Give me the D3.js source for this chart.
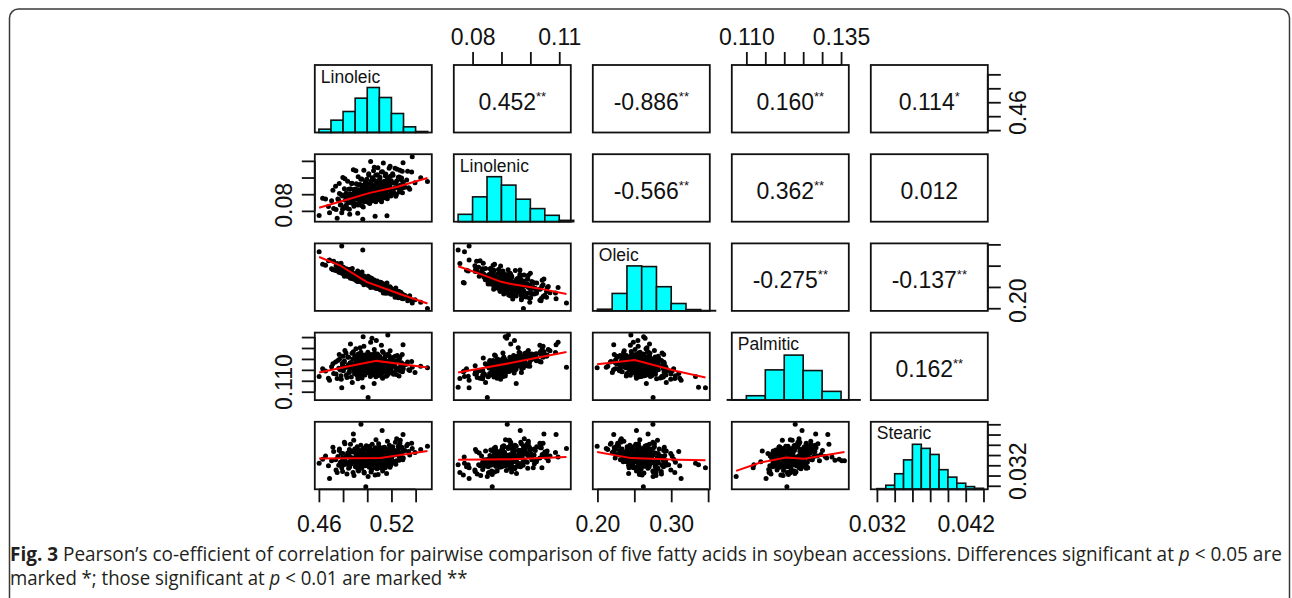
<!DOCTYPE html>
<html>
<head>
  <title>Fatty acid correlation matrix</title>
  <meta charset="utf-8">
  <script src="https://cdnjs.cloudflare.com/ajax/libs/d3/7.8.5/d3.min.js"></script>
  <style>
    body { margin: 0; background: #fff; }
    svg { display: block; }
  </style>
</head>
<body>
  <svg id="chart" width="1292" height="598"></svg>

  <script>
    "use strict";

    // one value per accession, estimated from the scatter clouds
    var linoleic = [0.4602,0.4655,0.4688,0.4705,0.4722,0.4738,0.4751,0.4764,0.4770,0.4783,
      0.4789,0.4794,0.4798,0.4803,0.4811,0.4818,0.4824,0.4832,0.4838,0.4843,
      0.4849,0.4855,0.4861,0.4866,0.4870,0.4876,0.4881,0.4885,0.4890,0.4893,
      0.4897,0.4903,0.4907,0.4910,0.4914,0.4917,0.4921,0.4925,0.4928,0.4931,
      0.4935,0.4938,0.4941,0.4944,0.4948,0.4951,0.4954,0.4957,0.4960,0.4963,
      0.4966,0.4969,0.4972,0.4975,0.4978,0.4981,0.4984,0.4988,0.4992,0.4996,
      0.5002,0.5005,0.5007,0.5010,0.5013,0.5015,0.5018,0.5020,0.5023,0.5026,
      0.5028,0.5031,0.5033,0.5036,0.5039,0.5041,0.5044,0.5046,0.5049,0.5052,
      0.5054,0.5057,0.5059,0.5062,0.5065,0.5067,0.5070,0.5072,0.5075,0.5078,
      0.5080,0.5083,0.5085,0.5088,0.5090,0.5093,0.5095,0.5098,0.5102,0.5105,
      0.5108,0.5111,0.5114,0.5117,0.5120,0.5123,0.5127,0.5130,0.5133,0.5136,
      0.5140,0.5143,0.5146,0.5150,0.5153,0.5157,0.5160,0.5163,0.5167,0.5170,
      0.5174,0.5177,0.5181,0.5184,0.5188,0.5191,0.5195,0.5198,0.5204,0.5210,
      0.5217,0.5223,0.5230,0.5236,0.5243,0.5250,0.5257,0.5263,0.5270,0.5277,
      0.5284,0.5291,0.5296,0.5298,0.5312,0.5334,0.5351,0.5372,0.5395,0.5498,
      0.4631,0.4679,0.4716,0.4742,0.4757,0.4768,0.4777,0.4785,0.4796,0.4807,
      0.4815,0.4827,0.4836,0.4846,0.4852,0.4859,0.4868,0.4874,0.4883,0.4888,
      0.4895,0.4902,0.4906,0.4912,0.4916,0.4923,0.4927,0.4933,0.4937,0.4943,
      0.4947,0.4952,0.4958,0.4962,0.4967,0.4973,0.4979,0.4983,0.4989,0.4994,
      0.5003,0.5008,0.5012,0.5017,0.5021,0.5025,0.5029,0.5034,0.5038,0.5043,
      0.5047,0.5051,0.5055,0.5058,0.5063,0.5066,0.5071,0.5074,0.5077,0.5081,
      0.5084,0.5087,0.5091,0.5094,0.5097,0.5103,0.5109,0.5115,0.5121,0.5126,
      0.5132,0.5138,0.5144,0.5149,0.5155,0.5161,0.5166,0.5172,0.5178,0.5183,
      0.5189,0.5194,0.5199,0.5201,0.5213,0.5226,0.5233,0.5241,0.5248,0.5256,
      0.5265,0.5273,0.5281,0.5289,0.5294,0.5326,0.5343,0.5367,0.5442,0.5118];

    var linolenic = [0.0772,0.0871,0.0788,0.0861,0.0814,0.0948,0.0756,0.0863,0.0904,0.0837,
      0.0788,0.0889,0.1000,0.0821,0.0932,0.0864,0.0905,0.0816,0.0978,0.0849,
      0.0890,0.0779,0.0932,0.0863,0.0964,0.0845,0.0886,0.1047,0.0828,0.0909,
      0.0879,0.0931,0.0841,0.0962,0.0873,0.0903,0.0785,0.1005,0.0866,0.0926,
      0.0837,0.0898,0.0958,0.0859,0.0920,0.0890,0.0991,0.0831,0.0942,0.0750,
      0.0913,0.0874,0.1044,0.0855,0.0936,0.0886,0.0967,0.0868,0.0908,0.0989,
      0.0880,0.0961,0.0851,0.0922,0.1013,0.0893,0.0944,0.0844,0.0935,0.0905,
      0.1096,0.0876,0.0957,0.0867,0.0918,0.0988,0.0889,0.0939,0.0860,0.1040,
      0.0901,0.0951,0.0882,0.0982,0.0768,0.0933,0.1014,0.0914,0.0945,0.0876,
      0.0966,0.0897,0.0927,0.1058,0.0868,0.0949,0.0909,0.0980,0.0890,0.1001,
      0.0922,0.0942,0.0863,0.1033,0.0904,0.0965,0.0885,0.0936,0.1087,0.0917,
      0.0978,0.0879,0.0959,0.0930,0.1021,0.0901,0.0952,0.0771,0.0993,0.0924,
      0.0975,0.0895,0.1056,0.0937,0.0948,0.1008,0.0889,0.0970,0.0921,0.1022,
      0.0913,0.0965,0.1056,0.0887,0.0979,0.0940,0.1001,0.0913,0.1044,0.0955,
      0.0997,0.0908,0.1089,0.0970,0.0942,0.1037,0.0930,0.1125,0.0969,0.0976,
      0.0876,0.0826,0.0923,0.0808,0.0871,0.0964,0.0835,0.0897,0.0809,0.0891,
      0.0993,0.0835,0.0877,0.0929,0.0810,0.0902,0.0874,0.0965,0.0857,0.0928,
      0.0839,0.0901,0.1041,0.0872,0.0923,0.0835,0.0955,0.0887,0.0917,0.0859,
      0.0989,0.0880,0.0902,0.0952,0.0823,0.0935,0.0876,0.0977,0.0898,0.0919,
      0.0951,0.0872,0.1022,0.0893,0.0934,0.0855,0.0976,0.0917,0.0888,0.0999,
      0.0869,0.0950,0.0911,0.1062,0.0883,0.0933,0.0854,0.0975,0.0905,0.0946,
      0.1017,0.0897,0.0928,0.0969,0.0879,0.0991,0.0912,0.0943,0.0874,0.1035,
      0.0906,0.0968,0.0929,0.1010,0.0901,0.0962,0.0873,0.0994,0.0936,0.0947,
      0.1068,0.0919,0.0980,0.0900,0.1013,0.0935,0.0967,0.0898,0.1050,0.0951,
      0.1003,0.0925,0.0986,0.1038,0.0939,0.0985,0.0939,0.1033,0.0998,0.0854];

    var oleic = [0.3329,0.3012,0.3134,0.2925,0.3102,0.2886,0.3048,0.2931,0.2838,0.3057,
      0.3464,0.2817,0.2823,0.2964,0.2752,0.2900,0.2876,0.2867,0.2782,0.2745,
      0.2912,0.2894,0.2706,0.2809,0.2800,0.2933,0.2704,0.2686,0.2794,0.2809,
      0.2705,0.2812,0.2786,0.2735,0.2674,0.2772,0.2873,0.2627,0.2751,0.2662,
      0.2818,0.2701,0.2672,0.2705,0.2752,0.2617,0.2684,0.2853,0.2603,0.3370,
      0.2626,0.2754,0.2552,0.2630,0.2732,0.2664,0.2667,0.2622,0.2658,0.2567,
      0.2708,0.2578,0.2754,0.2534,0.2600,0.2710,0.2570,0.2671,0.2594,0.2718,
      0.2486,0.2569,0.2619,0.2604,0.2646,0.2519,0.2652,0.2508,0.2665,0.2524,
      0.2554,0.2663,0.2578,0.2557,0.2605,0.2641,0.2471,0.2574,0.2548,0.2501,
      0.2547,0.2637,0.2498,0.2473,0.2569,0.2580,0.2492,0.2535,0.2591,0.2446,
      0.2608,0.2428,0.2568,0.2446,0.2477,0.2529,0.2529,0.2525,0.2355,0.2567,
      0.2400,0.2534,0.2443,0.2560,0.2350,0.2525,0.2423,0.2593,0.2358,0.2453,
      0.2422,0.2401,0.2393,0.2416,0.2505,0.2342,0.2470,0.2441,0.2366,0.2403,
      0.2399,0.2397,0.2260,0.2474,0.2324,0.2398,0.2245,0.2391,0.2274,0.2377,
      0.2242,0.2336,0.2221,0.2241,0.2301,0.2176,0.2296,0.2120,0.2202,0.1996,
      0.3033,0.3115,0.2906,0.2995,0.2867,0.2898,0.2913,0.2993,0.2865,0.2902,
      0.2772,0.2928,0.2757,0.2820,0.2903,0.2779,0.2893,0.2711,0.2795,0.2814,
      0.2731,0.2783,0.2658,0.2826,0.2636,0.2802,0.2698,0.2675,0.2786,0.2698,
      0.2679,0.2638,0.2740,0.2621,0.2750,0.2757,0.2620,0.2635,0.2628,0.2712,
      0.2576,0.2700,0.2591,0.2550,0.2645,0.2620,0.2635,0.2549,0.2699,0.2538,
      0.2639,0.2494,0.2629,0.2510,0.2544,0.2636,0.2570,0.2556,0.2498,0.2593,
      0.2464,0.2571,0.2461,0.2557,0.2539,0.2526,0.2469,0.2567,0.2505,0.2459,
      0.2437,0.2499,0.2462,0.2486,0.2434,0.2467,0.2446,0.2489,0.2381,0.2440,
      0.2363,0.2462,0.2326,0.2454,0.2334,0.2439,0.2315,0.2401,0.2307,0.2288,
      0.2352,0.2312,0.2333,0.2228,0.2312,0.2264,0.2218,0.2185,0.2140,0.2598];

    var palmitic = [0.1170,0.1195,0.1152,0.1214,0.1183,0.1236,0.1160,0.1207,0.1248,0.1173,
      0.1118,0.1229,0.1262,0.1196,0.1241,0.1211,0.1277,0.1165,0.1259,0.1223,
      0.1188,0.1205,0.1318,0.1232,0.1219,0.1142,0.1250,0.1283,0.1197,0.1226,
      0.1264,0.1213,0.1180,0.1248,0.1201,0.1236,0.1171,0.1273,0.1227,0.1192,
      0.1254,0.1210,0.1301,0.1183,0.1229,0.1245,0.1218,0.1163,0.1266,0.1120,
      0.1352,0.1198,0.1308,0.1215,0.1251,0.1176,0.1232,0.1207,0.1259,0.1222,
      0.1240,0.1281,0.1073,0.1225,0.1263,0.1209,0.1186,0.1228,0.1247,0.1169,
      0.1326,0.1214,0.1256,0.1199,0.1345,0.1270,0.1179,0.1221,0.1243,0.1262,
      0.1205,0.1138,0.1230,0.1276,0.1191,0.1238,0.1252,0.1216,0.1334,0.1202,
      0.1245,0.1173,0.1227,0.1268,0.1211,0.1249,0.1187,0.1234,0.1220,0.1261,
      0.1196,0.1239,0.1178,0.1312,0.1213,0.1247,0.1162,0.1225,0.1279,0.1204,
      0.1233,0.1189,0.1258,0.1216,0.1242,0.1171,0.1228,0.1195,0.1270,0.1359,
      0.1237,0.1183,0.1266,0.1222,0.1201,0.1250,0.1192,0.1231,0.1214,0.1253,
      0.1180,0.1227,0.1262,0.1198,0.1239,0.1208,0.1245,0.1172,0.1258,0.1219,
      0.1232,0.1191,0.1315,0.1205,0.1224,0.1236,0.1197,0.1212,0.1188,0.1210,
      0.1205,0.1162,0.1228,0.1181,0.1243,0.1270,0.1199,0.1157,0.1219,0.1235,
      0.1289,0.1176,0.1214,0.1258,0.1190,0.1232,0.1167,0.1276,0.1208,0.1221,
      0.1183,0.1246,0.1297,0.1201,0.1225,0.1159,0.1262,0.1211,0.1193,0.1237,
      0.1281,0.1206,0.1174,0.1253,0.1197,0.1231,0.1268,0.1219,0.1185,0.1240,
      0.1247,0.1203,0.1274,0.1188,0.1229,0.1215,0.1258,0.1198,0.1177,0.1266,
      0.1236,0.1210,0.1250,0.1293,0.1192,0.1227,0.1168,0.1261,0.1213,0.1244,
      0.1272,0.1199,0.1222,0.1239,0.1181,0.1255,0.1218,0.1207,0.1186,0.1284,
      0.1226,0.1245,0.1203,0.1261,0.1194,0.1234,0.1175,0.1268,0.1211,0.1229,
      0.1287,0.1200,0.1241,0.1189,0.1257,0.1216,0.1236,0.1179,0.1266,0.1204,
      0.1248,0.1195,0.1223,0.1270,0.1210,0.1226,0.1201,0.1238,0.1216,0.1170];

    var stearic = [0.0364,0.0378,0.0334,0.0369,0.0387,0.0371,0.0346,0.0360,0.0392,0.0366,
      0.0355,0.0374,0.0383,0.0361,0.0405,0.0369,0.0376,0.0343,0.0384,0.0365,
      0.0379,0.0357,0.0401,0.0370,0.0363,0.0388,0.0373,0.0421,0.0340,0.0367,
      0.0392,0.0375,0.0358,0.0385,0.0366,0.0396,0.0361,0.0371,0.0349,0.0380,
      0.0368,0.0357,0.0389,0.0363,0.0440,0.0372,0.0354,0.0378,0.0384,0.0361,
      0.0369,0.0393,0.0377,0.0345,0.0365,0.0382,0.0359,0.0318,0.0398,0.0366,
      0.0375,0.0387,0.0338,0.0369,0.0380,0.0362,0.0395,0.0371,0.0358,0.0383,
      0.0376,0.0347,0.0364,0.0389,0.0372,0.0401,0.0360,0.0368,0.0379,0.0355,
      0.0386,0.0367,0.0373,0.0392,0.0341,0.0378,0.0363,0.0410,0.0370,0.0384,
      0.0357,0.0375,0.0366,0.0388,0.0342,0.0379,0.0396,0.0368,0.0361,0.0383,
      0.0372,0.0355,0.0390,0.0374,0.0366,0.0428,0.0349,0.0377,0.0385,0.0364,
      0.0371,0.0395,0.0358,0.0380,0.0367,0.0388,0.0344,0.0376,0.0407,0.0369,
      0.0360,0.0382,0.0374,0.0393,0.0356,0.0371,0.0385,0.0363,0.0378,0.0396,
      0.0367,0.0389,0.0381,0.0362,0.0412,0.0384,0.0391,0.0370,0.0403,0.0378,
      0.0395,0.0386,0.0420,0.0374,0.0389,0.0401,0.0380,0.0393,0.0385,0.0397,
      0.0372,0.0359,0.0395,0.0351,0.0377,0.0389,0.0366,0.0383,0.0348,0.0371,
      0.0402,0.0362,0.0380,0.0354,0.0391,0.0368,0.0375,0.0386,0.0346,0.0409,
      0.0370,0.0357,0.0381,0.0365,0.0393,0.0352,0.0376,0.0387,0.0363,0.0371,
      0.0399,0.0358,0.0378,0.0366,0.0384,0.0347,0.0373,0.0392,0.0361,0.0379,
      0.0368,0.0388,0.0371,0.0356,0.0397,0.0364,0.0381,0.0350,0.0374,0.0390,
      0.0362,0.0377,0.0385,0.0369,0.0358,0.0394,0.0372,0.0366,0.0380,0.0353,
      0.0389,0.0375,0.0361,0.0402,0.0368,0.0379,0.0359,0.0386,0.0371,0.0394,
      0.0363,0.0382,0.0370,0.0355,0.0391,0.0376,0.0365,0.0384,0.0372,0.0399,
      0.0378,0.0360,0.0388,0.0373,0.0392,0.0380,0.0405,0.0369,0.0386,0.0397,
      0.0376,0.0409,0.0383,0.0394,0.0371,0.0398,0.0387,0.0403,0.0391,0.0357];

    // histogram bars as drawn on the diagonal: first break, bin width, bar heights
    var linoleicBins = [0.46, 0.01, [10, 37, 63, 103, 135, 105, 57, 17, 3]];
    var linolenicBins = [0.075, 0.005, [22, 74, 134, 109, 67, 39, 19, 4]];
    var oleicBins = [0.20, 0.02, [5, 52, 134, 132, 72, 22, 4, 1]];
    var palmiticBins = [0.105, 0.005, [1, 13, 90, 134, 88, 26, 1]];
    var stearicBins = [0.032, 0.001, [2, 12, 46, 87, 133, 121, 103, 58, 36, 18, 8, 3]];

    // smoothed red lines of the lower panels, [x, y]
    var smoothLinolenicLinoleic = [[0.4602,0.0819],[0.4800,0.0861],[0.5022,0.0908],[0.5243,0.0943],[0.5498,0.0997]];
    var smoothOleicLinoleic = [[0.4602,0.3203],[0.4773,0.3009],[0.4994,0.2620],[0.5270,0.2333],[0.5498,0.2112]];
    var smoothOleicLinolenic = [[0.0750,0.2987],[0.0828,0.2800],[0.0899,0.2620],[0.0934,0.2567],[0.1029,0.2466],[0.1125,0.2334]];
    var smoothPalmiticLinoleic = [[0.4602,0.1188],[0.4856,0.1218],[0.5077,0.1241],[0.5498,0.1211]];
    var smoothPalmiticLinolenic = [[0.0750,0.1188],[0.0935,0.1232],[0.1125,0.1282]];
    var smoothPalmiticOleic = [[0.1996,0.1226],[0.2507,0.1245],[0.3067,0.1195],[0.3464,0.1165]];
    var smoothStearicLinoleic = [[0.4602,0.0373],[0.5109,0.0374],[0.5498,0.0388]];
    var smoothStearicLinolenic = [[0.0750,0.0371],[0.0935,0.0372],[0.1125,0.0376]];
    var smoothStearicOleic = [[0.1996,0.0386],[0.2458,0.0374],[0.3102,0.0371],[0.3464,0.0370]];
    var smoothStearicPalmitic = [[0.1073,0.0349],[0.1135,0.0365],[0.1205,0.0375],[0.1253,0.0373],[0.1359,0.0386]];

    // upper panels: [row, col], coefficient, significance stars
    var corrCells = [[0,1],[0,2],[0,3],[0,4],[1,2],[1,3],[1,4],[2,3],[2,4],[3,4]];
    var corrValues = ["0.452","-0.886","0.160","0.114","-0.566","0.362","0.012","-0.275","-0.137","0.162"];
    var corrStars = ["**","**","**","*","**","**","","**","**","**"];

    var names = ["Linoleic", "Linolenic", "Oleic", "Palmitic", "Stearic"];

    var linoleicTicks = [0.46, 0.48, 0.50, 0.52, 0.54];
    var linolenicTicks = [0.08, 0.09, 0.10, 0.11];
    var oleicTicks = [0.20, 0.25, 0.30, 0.35];
    var palmiticTicks = [0.110, 0.115, 0.120, 0.125, 0.130, 0.135];
    var stearicTicks = [0.032, 0.034, 0.036, 0.038, 0.040, 0.042, 0.044];

    // labels printed on the horizontal and the vertical axis of each variable
    var linoleicXLabels = ["0.46", "", "", "0.52", ""];
    var linolenicXLabels = ["0.08", "", "", "0.11"];
    var oleicXLabels = ["0.20", "", "0.30", ""];
    var palmiticXLabels = ["0.110", "", "", "", "", "0.135"];
    var stearicXLabels = ["0.032", "", "", "", "", "0.042", ""];
    var linoleicYLabels = ["0.46", "", "", "", ""];
    var linolenicYLabels = ["0.08", "", "", ""];
    var oleicYLabels = ["0.20", "", "", ""];
    var palmiticYLabels = ["0.110", "", "", "", "", ""];
    var stearicYLabels = ["0.032", "", "", "", "", "", ""];

    var captionBold = "Fig. 3";
    var captionLine1 = " Pearson\u2019s co-efficient of correlation for pairwise comparison of five fatty acids in soybean accessions. Differences significant at ";
    var captionLine1End = " < 0.05 are";
    var captionLine2 = "marked *; those significant at ";
    var captionLine2End = " < 0.01 are marked **";

    var values = [linoleic, linolenic, oleic, palmitic, stearic];
    var bins = [linoleicBins, linolenicBins, oleicBins, palmiticBins, stearicBins];
    var ticks = [linoleicTicks, linolenicTicks, oleicTicks, palmiticTicks, stearicTicks];
    var xLabels = [linoleicXLabels, linolenicXLabels, oleicXLabels, palmiticXLabels, stearicXLabels];
    var yLabels = [linoleicYLabels, linolenicYLabels, oleicYLabels, palmiticYLabels, stearicYLabels];
    var smooths = {
      "1,0": smoothLinolenicLinoleic, "2,0": smoothOleicLinoleic, "2,1": smoothOleicLinolenic,
      "3,0": smoothPalmiticLinoleic, "3,1": smoothPalmiticLinolenic, "3,2": smoothPalmiticOleic,
      "4,0": smoothStearicLinoleic, "4,1": smoothStearicLinolenic, "4,2": smoothStearicOleic,
      "4,3": smoothStearicPalmitic
    };

    var font = "'Liberation Sans', Arial, Helvetica, sans-serif";
    var svg = d3.select("#chart");

    var gridLeft = 314.8, gridTop = 65;
    var pw = 117, ph = 67.5, stepX = 139, stepY = 89.2;
    var tickLen = 13;
    // the printed vertical labels sit a little above their ticks
    var yLabelNudge = [-18, -6, -8, -10, -15];

    // like R: data range widened by 4% on each side
    function padded(v, size, flip) {
      var e = d3.extent(v), pad = (e[1] - e[0]) * 0.04;
      return d3.scaleLinear()
        .domain([e[0] - pad, e[1] + pad])
        .range(flip ? [size, 0] : [0, size]);
    }
    var xScale = values.map(function(v) { return padded(v, pw, false); });
    var yScale = values.map(function(v) { return padded(v, ph, true); });

    // outer frame of the figure, rounded at the top
    svg.append("rect")
      .attr("x", 9.5).attr("y", 9)
      .attr("width", 1280).attr("height", 700)
      .attr("rx", 9)
      .attr("fill", "none")
      .attr("stroke", "#3a3a3a")
      .attr("stroke-width", 1.5);

    function drawHist(g, i) {
      var b = bins[i];
      var counts = b[2];
      var x = xScale[i];
      var y = d3.scaleLinear().domain([0, d3.max(counts) * 1.5]).range([ph, 0]);
      g.selectAll("rect.bar")
        .data(counts)
        .enter()
        .append("rect")
        .attr("class", "bar")
        .attr("x", function(d, k) { return x(b[0] + k * b[1]); })
        .attr("width", function(d, k) { return x(b[0] + (k + 1) * b[1]) - x(b[0] + k * b[1]); })
        .attr("y", function(d) { return y(d); })
        .attr("height", function(d) { return ph - y(d); })
        .attr("fill", "#00ffff")
        .attr("stroke", "#111")
        .attr("stroke-width", 1.6);
      g.append("text")
        .attr("x", 6).attr("y", 17.5)
        .attr("font-family", font)
        .attr("font-size", 17.5)
        .attr("fill", "#111")
        .text(names[i]);
    }

    function drawScatter(g, i, j) {
      var x = xScale[j], y = yScale[i];
      var xv = values[j], yv = values[i];
      g.selectAll("circle")
        .data(d3.range(xv.length))
        .enter()
        .append("circle")
        .attr("cx", function(k) { return x(xv[k]); })
        .attr("cy", function(k) { return y(yv[k]); })
        .attr("r", 2.5)
        .attr("fill", "#000");
      var line = d3.line()
        .x(function(d) { return x(d[0]); })
        .y(function(d) { return y(d[1]); });
      g.append("path")
        .attr("d", line(smooths[i + "," + j]))
        .attr("fill", "none")
        .attr("stroke", "#ff0000")
        .attr("stroke-width", 2);
    }

    function drawCorr(g, i, j) {
      var k = corrCells.findIndex(function(c) { return c[0] === i && c[1] === j; });
      var t = g.append("text")
        .attr("x", pw / 2).attr("y", ph / 2 + 11)
        .attr("text-anchor", "middle")
        .attr("font-family", font)
        .attr("font-size", 23)
        .attr("fill", "#111");
      t.append("tspan").text(corrValues[k]);
      if (corrStars[k]) {
        t.append("tspan")
          .attr("font-size", 13)
          .attr("dy", -9)
          .text(corrStars[k]);
      }
    }

    function styleAxis(a, k, vertical, offset) {
      a.attr("font-size", 23).attr("font-family", font);
      a.select(".domain").remove();
      a.selectAll(".tick line").attr("stroke", "#111").attr("stroke-width", 1.8);
      a.selectAll(".tick text").attr("fill", "#111");
      if (vertical) {
        a.selectAll(".tick text")
          .attr("x", -yLabelNudge[k])
          .attr("dy", null)
          .attr("y", offset)
          .attr("text-anchor", "middle")
          .attr("transform", "rotate(-90)");
      }
    }

    function axisLine(a, s, k, vertical) {
      var t = ticks[k];
      var p0 = s(t[0]), p1 = s(t[t.length - 1]);
      a.append("line")
        .attr("x1", vertical ? 0 : p0).attr("x2", vertical ? 0 : p1)
        .attr("y1", vertical ? p0 : 0).attr("y2", vertical ? p1 : 0)
        .attr("stroke", "#111").attr("stroke-width", 1.8);
    }

    names.forEach(function(rn, i) {
      names.forEach(function(cn, j) {
        var g = svg.append("g")
          .attr("transform", "translate(" + (gridLeft + j * stepX) + "," + (gridTop + i * stepY) + ")");

        if (i === j) drawHist(g, i);
        else if (i > j) drawScatter(g, i, j);
        else drawCorr(g, i, j);

        g.append("rect")
          .attr("width", pw).attr("height", ph)
          .attr("fill", "none")
          .attr("stroke", "#111")
          .attr("stroke-width", 1.8);

        var fmtX = function(d, n) { return xLabels[j][n]; };
        var fmtY = function(d, n) { return yLabels[i][n]; };

        if (i === 0 && j % 2 === 1) {
          var at = g.append("g").call(d3.axisTop(xScale[j]).tickValues(ticks[j])
            .tickSize(tickLen).tickSizeOuter(0).tickPadding(7).tickFormat(fmtX));
          styleAxis(at, j, false);
          axisLine(at, xScale[j], j, false);
        }
        if (i === names.length - 1 && j % 2 === 0) {
          var ab = g.append("g").attr("transform", "translate(0," + ph + ")")
            .call(d3.axisBottom(xScale[j]).tickValues(ticks[j])
            .tickSize(tickLen).tickSizeOuter(0).tickPadding(13).tickFormat(fmtX));
          styleAxis(ab, j, false);
          axisLine(ab, xScale[j], j, false);
        }
        if (j === 0 && i % 2 === 1) {
          var al = g.append("g").call(d3.axisLeft(yScale[i]).tickValues(ticks[i])
            .tickSize(tickLen).tickSizeOuter(0).tickFormat(fmtY));
          styleAxis(al, i, true, -23);
          axisLine(al, yScale[i], i, true);
        }
        if (j === names.length - 1 && i % 2 === 0) {
          var ar = g.append("g").attr("transform", "translate(" + pw + ",0)")
            .call(d3.axisRight(yScale[i]).tickValues(ticks[i])
            .tickSize(tickLen).tickSizeOuter(0).tickFormat(fmtY));
          styleAxis(ar, i, true, 38);
          axisLine(ar, yScale[i], i, true);
        }
      });
    });

    // caption, squeezed to the width of the printed lines
    function caption(y, parts, width) {
      var t = svg.append("text")
        .attr("font-family", "'Open Sans', 'Noto Sans', sans-serif")
        .attr("font-size", 19.5)
        .attr("fill", "#231f20");
      parts.forEach(function(p) {
        var s = t.append("tspan").text(p[0]);
        if (p[1] === "b") s.attr("font-weight", "bold");
        if (p[1] === "i") s.attr("font-style", "italic");
      });
      var natural = t.node().getComputedTextLength();
      t.attr("transform", "translate(10," + y + ") scale(" + (width / natural) + ",1)");
    }
    caption(561, [[captionBold, "b"], [captionLine1, ""], ["p", "i"], [captionLine1End, ""]], 1273);
    caption(585, [[captionLine2, ""], ["p", "i"], [captionLine2End, ""]], 458);
  </script>
</body>
</html>
